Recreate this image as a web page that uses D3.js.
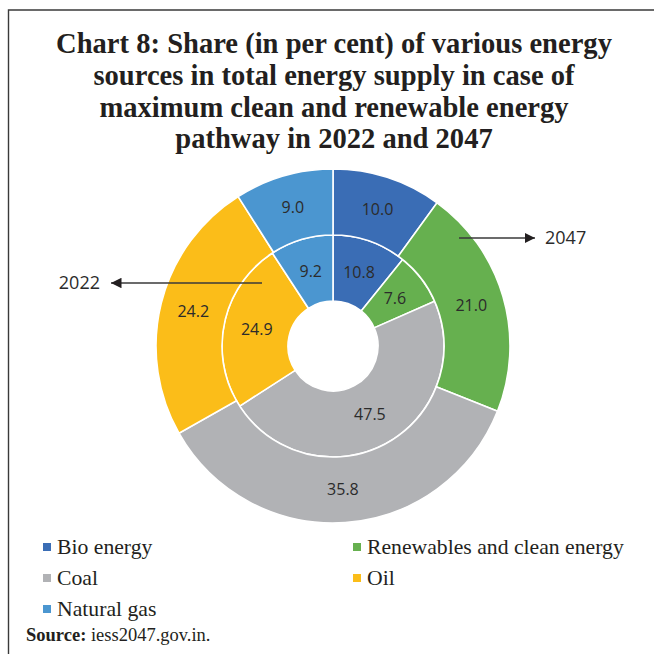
<!DOCTYPE html>
<html>
<head>
<meta charset="utf-8">
<script src="https://cdn.jsdelivr.net/npm/d3@7"></script>
<style>
  html, body { margin: 0; padding: 0; background: #fff; }
  svg { display: block; }
</style>
</head>
<body>
<svg id="chart" width="654" height="654"></svg>
<script>
// Energy sources, in drawing order (clockwise from 12 o'clock)
const categories = ["Bio energy", "Renewables and clean energy", "Coal", "Oil", "Natural gas"];
// Share (per cent) of total energy supply
const values2022 = [10.8, 7.6, 47.5, 24.9, 9.2];   // inner ring
const values2047 = [10.0, 21.0, 35.8, 24.2, 9.0];  // outer ring
const colors = ["#3a6db5", "#66b04f", "#b1b2b5", "#fbbd19", "#4b96d0"];

const titleLines = [
  "Chart 8: Share (in per cent) of various energy",
  "sources in total energy supply in case of",
  "maximum clean and renewable energy",
  "pathway in 2022 and 2047"
];

const svg = d3.select("#chart");

// Frame
svg.append("path")
  .attr("d", "M8.5,660 L8.5,10 L660,10")
  .attr("fill", "none")
  .attr("stroke", "#3a3a3a")
  .attr("stroke-width", 1.4);

// Title
const titleFont = "'Liberation Serif', 'DejaVu Serif', serif";
const title = svg.append("g").attr("font-family", titleFont).attr("font-weight", "bold")
  .attr("fill", "#231f20").attr("text-anchor", "middle");
const titleTexts = title.selectAll("text").data(titleLines).join("text")
  .attr("x", 334)
  .attr("y", (d, i) => 53 + i * 31.8)
  .attr("font-size", 26)
  .text(d => d);
// size the title so the first line spans the frame width
const w0 = titleTexts.node().getComputedTextLength();
const fs = 26 * 556 / w0;
titleTexts.attr("font-size", fs);

// Donut
const cx = 333, cy = 346;
const color = d3.scaleOrdinal().domain(categories).range(colors);
const pie = d3.pie().sort(null).value(d => d.v);
const rings = [
  { values: values2022, r0: 45, r1: 111 },
  { values: values2047, r0: 111, r1: 177 }
];

const g = svg.append("g").attr("transform", `translate(${cx},${cy})`);
rings.forEach(ring => {
  const data = pie(categories.map((c, i) => ({ c, v: ring.values[i] })));
  const arc = d3.arc().innerRadius(ring.r0).outerRadius(ring.r1);
  const labelArc = d3.arc().innerRadius((ring.r0 + ring.r1) / 2).outerRadius((ring.r0 + ring.r1) / 2);
  g.append("g").selectAll("path").data(data).join("path")
    .attr("d", arc)
    .attr("fill", d => color(d.data.c))
    .attr("stroke", "#fff")
    .attr("stroke-width", 1.6);
  g.append("g").selectAll("text").data(data).join("text")
    .attr("transform", d => `translate(${labelArc.centroid(d)})`)
    .attr("text-anchor", "middle")
    .attr("dy", "0.35em")
    .attr("font-family", "'Open Sans', 'Liberation Sans', sans-serif")
    .attr("font-size", 16)
    .attr("fill", "#2b2b2b")
    .text(d => d3.format(".1f")(d.data.v));
});

// Year callouts
const defs = svg.append("defs");
defs.append("marker")
  .attr("id", "arrowhead")
  .attr("viewBox", "0 0 10 10")
  .attr("refX", 10).attr("refY", 5)
  .attr("markerWidth", 7).attr("markerHeight", 7)
  .attr("markerUnits", "strokeWidth")
  .attr("orient", "auto")
  .append("path").attr("d", "M0,0 L10,5 L0,10 Z").attr("fill", "#231f20");

const callouts = [
  { label: "2022", x1: 262, x2: 111, y: 283, tx: 100, anchor: "end" },
  { label: "2047", x1: 459, x2: 535, y: 238, tx: 545, anchor: "start" }
];
callouts.forEach(c => {
  svg.append("line")
    .attr("x1", c.x1).attr("y1", c.y).attr("x2", c.x2).attr("y2", c.y)
    .attr("stroke", "#3a3a3a").attr("stroke-width", 1.5)
    .attr("marker-end", "url(#arrowhead)");
  svg.append("text")
    .attr("x", c.tx).attr("y", c.y).attr("dy", "0.35em")
    .attr("text-anchor", c.anchor)
    .attr("font-family", "'Open Sans', 'Liberation Sans', sans-serif")
    .attr("font-size", 18)
    .attr("fill", "#2b2b2b")
    .text(c.label);
});

// Legend
const legendPos = [
  { x: 43, y: 547 }, { x: 353, y: 547 },
  { x: 43, y: 578 }, { x: 353, y: 578 },
  { x: 43, y: 609 }
];
const legend = svg.append("g").selectAll("g").data(categories).join("g")
  .attr("transform", (d, i) => `translate(${legendPos[i].x},${legendPos[i].y})`);
legend.append("rect")
  .attr("x", 0).attr("y", -4).attr("width", 8).attr("height", 8)
  .attr("fill", d => color(d));
legend.append("text")
  .attr("x", 14).attr("dy", "0.33em")
  .attr("font-family", titleFont)
  .attr("font-size", 21.7)
  .attr("fill", "#231f20")
  .text(d => d);

// Source note
const src = svg.append("text")
  .attr("x", 26).attr("y", 641)
  .attr("font-family", titleFont)
  .attr("font-size", 18.5)
  .attr("fill", "#231f20");
src.append("tspan").attr("font-weight", "bold").text("Source:");
src.append("tspan").text(" iess2047.gov.in.");
</script>
</body>
</html>
